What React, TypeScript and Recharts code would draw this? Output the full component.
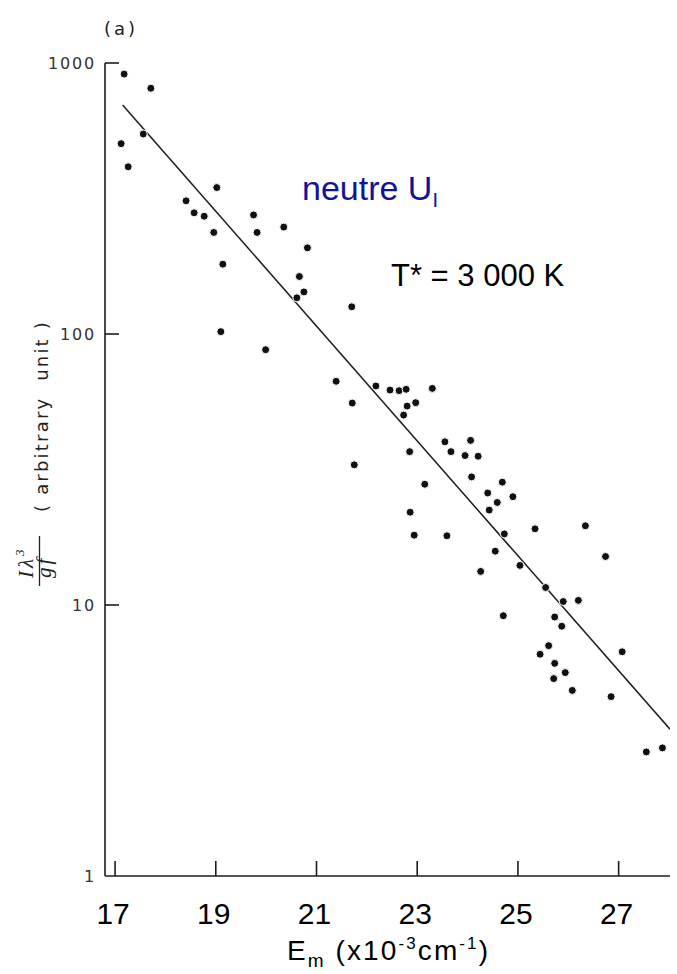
import React from 'react'
import { ScatterChart, Scatter, XAxis, YAxis } from 'recharts'

// energy of upper level (x10^3 cm-1) and I*lambda^3/gf
const energies = [
  17.18, 17.71, 17.12, 17.26, 17.56, 19.02, 18.41, 18.57, 18.77, 18.96,
  19.14, 19.75, 19.82, 20.35, 20.82, 20.66, 20.75, 20.61, 19.1, 19.99,
  21.39, 21.7, 21.71, 21.75, 22.18, 22.46, 22.64, 22.78, 23.3, 22.8,
  22.97, 22.73, 23.55, 24.06, 23.67, 23.95, 24.21, 22.85, 24.08, 23.15,
  24.69, 24.4, 24.9, 24.59, 24.43, 22.86, 22.94, 23.59, 24.73, 25.34,
  26.34, 24.55, 25.04, 26.74, 24.26, 25.55, 25.9, 26.2, 24.71, 25.73,
  25.87, 25.61, 25.44, 25.73, 25.94, 25.71, 26.08, 27.07, 26.85, 27.55,
  27.87,
]
const intensities = [
  910, 807, 504, 414, 547, 347, 310, 280, 272, 237,
  181, 275, 237, 248, 208, 163, 143, 136, 102, 87.5,
  66.9, 126, 55.6, 32.9, 64.3, 62.1, 61.8, 62.5, 63, 54.2,
  55.8, 50.2, 40, 40.5, 36.8, 35.6, 35.4, 36.8, 29.7, 27.9,
  28.4, 25.9, 25.1, 23.9, 22.4, 22, 18.1, 18, 18.3, 19.1,
  19.6, 15.8, 14, 15.1, 13.3, 11.6, 10.3, 10.4, 9.13, 9.03,
  8.35, 7.08, 6.58, 6.09, 5.63, 5.35, 4.84, 6.72, 4.59, 2.87,
  2.97,
]

// straight fit (T* = 3000 K)
const fitX = [17.15, 28.02]
const fitY = [700, 3.48]

const xTicks = [17, 19, 21, 23, 25, 27]
const yTicks = [1, 10, 100, 1000]

const points = energies.map((x, i) => ({ x, y: intensities[i] }))
const fitLine = fitX.map((x, i) => ({ x, y: fitY[i] }))

const INK = '#1c1c1c'

// inward tick mark + label, drawn as a path inside the tick group
const XTick = (props: any) => {
  const { x, y, payload } = props
  return (
    <g>
      <path d={`M${x},${y}V${y - 15}`} stroke={INK} strokeWidth={1.6} fill='none' />
      <text x={x - 2} y={y + 48} textAnchor='middle' fontFamily='Liberation Sans, Arial' fontSize={30} fill='#000'>
        {payload.value}
      </text>
    </g>
  )
}

const YTick = (props: any) => {
  const { x, y, payload } = props
  return (
    <g>
      {payload.value !== 1 && <path d={`M${x},${y}H${x + 14}`} stroke={INK} strokeWidth={1.6} fill='none' />}
      <text x={x - 9} y={y + 6} textAnchor='end' fontFamily='DejaVu Sans' fontSize={16} letterSpacing={1.8} fill='#333'>
        {payload.value}
      </text>
    </g>
  )
}

const Dot = (props: any) => (
  <circle cx={props.cx} cy={props.cy} r={4} fill='#111' stroke='#fff' strokeWidth={1} />
)

export default function App() {
  return (
    <div style={{ position: 'absolute', left: 0, top: 0, width: 677, height: 974, background: '#fff' }}>
      <ScatterChart width={677} height={974} margin={{ top: 63, right: 7, bottom: 0, left: 0 }}>
        <XAxis
          type='number'
          dataKey='x'
          domain={[16.8, 28.02]}
          ticks={xTicks}
          allowDataOverflow
          height={98}
          tickSize={0}
          tickMargin={0}
          tickLine={false}
          tick={XTick}
          axisLine={{ stroke: INK, strokeWidth: 1.6 }}
        />
        <YAxis
          type='number'
          dataKey='y'
          scale='log'
          domain={[1, 1000]}
          ticks={yTicks}
          allowDataOverflow
          width={105}
          tickSize={0}
          tickMargin={0}
          tickLine={false}
          tick={YTick}
          axisLine={{ stroke: INK, strokeWidth: 1.6 }}
        />
        <Scatter
          data={fitLine}
          line={{ stroke: INK, strokeWidth: 1.5 }}
          shape={() => <g />}
          isAnimationActive={false}
        />
        <Scatter data={points} shape={Dot} isAnimationActive={false} />
      </ScatterChart>

      <svg width={677} height={974} style={{ position: 'absolute', left: 0, top: 0, pointerEvents: 'none' }}>
        <text x={104} y={35} fontFamily='DejaVu Sans' fontSize={18} letterSpacing={3} fill='#222'>(a)</text>

        <text x={302} y={200} fontFamily='Liberation Sans, Arial' fontSize={34} fill='#12129c'>
          neutre U<tspan fontSize={20} dy={7}>I</tspan>
        </text>
        <text x={391} y={286} fontFamily='Liberation Sans, Arial' fontSize={31} fill='#000'>
          T* = 3 000 K
        </text>

        <text x={287} y={960} fontFamily='Liberation Sans, Arial' fontSize={28} fill='#000' textLength={201} lengthAdjust='spacing'>
          E<tspan fontSize={19} dy={7}>m</tspan>
          <tspan dy={-7}> (x10</tspan>
          <tspan fontSize={17} dy={-11}>-3</tspan>
          <tspan dy={11}>cm</tspan>
          <tspan fontSize={17} dy={-11}>-1</tspan>
          <tspan dy={11}>)</tspan>
        </text>

        <g transform='rotate(-90)'>
          <text x={-416} y={48} textAnchor='middle' fontFamily='DejaVu Sans' fontSize={18} letterSpacing={2.2} fill='#222' style={{ whiteSpace: 'pre' }}>
            {'( arbitrary  unit )'}
          </text>
          <line x1={-586} y1={39.5} x2={-536} y2={39.5} stroke='#222' strokeWidth={1.3} />
          <text x={-578} y={33} fontFamily='Liberation Serif' fontStyle='italic' fontSize={21} letterSpacing={3} fill='#222'>
            Iλ<tspan fontSize={13} dy={-9}>3</tspan>
          </text>
          <text x={-578} y={51} fontFamily='Liberation Serif' fontStyle='italic' fontSize={21} letterSpacing={3} fill='#222'>
            gf
          </text>
        </g>
      </svg>
    </div>
  )
}
